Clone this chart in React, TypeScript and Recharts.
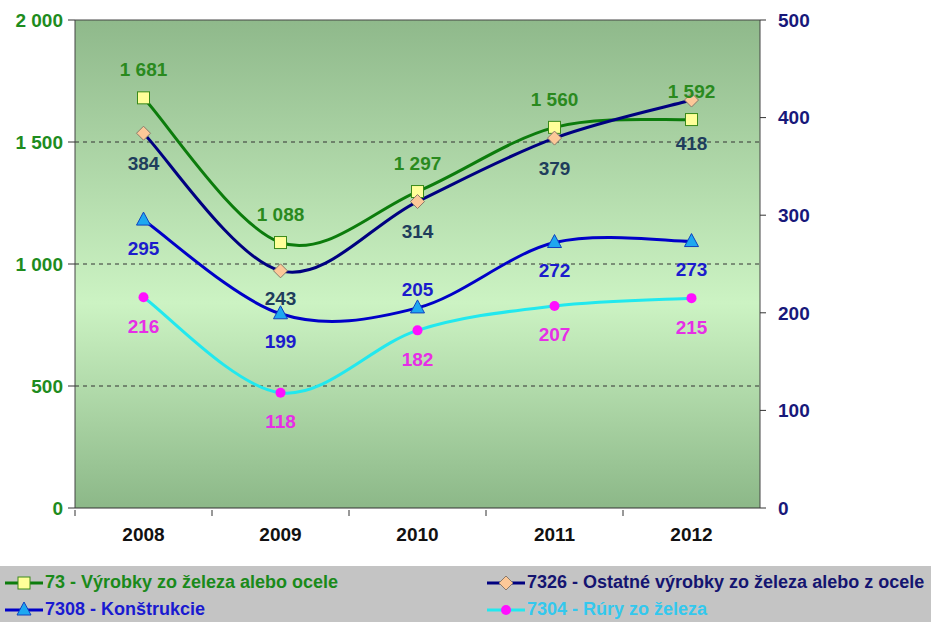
import { LineChart, Line, XAxis, YAxis, CartesianGrid, ReferenceLine, LabelList } from "recharts";

const years = ["2008", "2009", "2010", "2011", "2012"];
const vyrobky73 = [1681, 1088, 1297, 1560, 1592];
const ostatne7326 = [384, 243, 314, 379, 418];
const konstrukcie7308 = [295, 199, 205, 272, 273];
const rury7304 = [216, 118, 182, 207, 215];
const leftTicks = [0, 500, 1000, 1500, 2000];
const rightTicks = [0, 100, 200, 300, 400, 500];
const gridValues = [500, 1000, 1500];

const data = years.map((year, i) => ({
  year,
  s73: vyrobky73[i],
  s7326: ostatne7326[i],
  s7308: konstrukcie7308[i],
  s7304: rury7304[i],
}));

const FONT = "'Liberation Sans', Arial, sans-serif";

const fmt = (v: number) => String(v).replace(/\B(?=(\d{3})+(?!\d))/g, " ");

// Excel-like smoothed line (Catmull-Rom)
const smoothCurve = (context: any) => {
  let pts: [number, number][] = [];
  return {
    areaStart() {},
    areaEnd() {},
    lineStart() {
      pts = [];
    },
    point(x: number, y: number) {
      pts.push([+x, +y]);
    },
    lineEnd() {
      if (!pts.length) return;
      context.moveTo(pts[0][0], pts[0][1]);
      for (let i = 0; i < pts.length - 1; i++) {
        const p0 = pts[Math.max(i - 1, 0)];
        const p1 = pts[i];
        const p2 = pts[i + 1];
        const p3 = pts[Math.min(i + 2, pts.length - 1)];
        context.bezierCurveTo(
          p1[0] + (p2[0] - p0[0]) / 6,
          p1[1] + (p2[1] - p0[1]) / 6,
          p2[0] - (p3[0] - p1[0]) / 6,
          p2[1] - (p3[1] - p1[1]) / 6,
          p2[0],
          p2[1]
        );
      }
    },
  };
};

const SquareDot = (p: any) => (
  <rect key={p.index} x={p.cx - 6} y={p.cy - 6} width={12} height={12} fill="#ffff99" stroke="#3a8a1a" strokeWidth={1} />
);
const DiamondDot = (p: any) => (
  <path key={p.index} d={`M${p.cx},${p.cy - 7}L${p.cx + 7},${p.cy}L${p.cx},${p.cy + 7}L${p.cx - 7},${p.cy}Z`} fill="#fcc898" stroke="#8a7a6a" strokeWidth={1} />
);
const TriangleDot = (p: any) => (
  <path key={p.index} d={`M${p.cx},${p.cy - 8}L${p.cx + 7},${p.cy + 5}L${p.cx - 7},${p.cy + 5}Z`} fill="#1ea8f0" stroke="#1040c0" strokeWidth={1} />
);
const CircleDot = (p: any) => <circle key={p.index} cx={p.cx} cy={p.cy} r={5} fill="#ff10ff" />;

const series = [
  { key: "s73", name: "73 - Výrobky zo železa alebo ocele", axis: "left", line: "#0c7c0c", label: "#2a8a1e", legend: "#1a8a1a", dot: SquareDot, dy: [-28, -28, -28, -28, -28] },
  { key: "s7326", name: "7326 - Ostatné výrobky zo železa alebo z ocele", axis: "right", line: "#000080", label: "#1f3d5c", legend: "#141470", dot: DiamondDot, dy: [30, 28, 30, 30, 43] },
  { key: "s7308", name: "7308 - Konštrukcie", axis: "right", line: "#0000c8", label: "#1c1ccc", legend: "#1a1ad0", dot: TriangleDot, dy: [28, 28, -18, 28, 28] },
  { key: "s7304", name: "7304 - Rúry zo železa", axis: "right", line: "#22e8ee", label: "#e62ee6", legend: "#33c8ee", dot: CircleDot, dy: [29, 29, 29, 29, 29] },
];

const YearTick = (props: any) => {
  const { x, y, payload } = props;
  const half = payload.offset ?? 0;
  return (
    <g>
      <line x1={x - half} x2={x - half} y1={y} y2={y + 6} stroke="#333" />
      <text x={x} y={y + 31} textAnchor="middle" fontFamily={FONT} fontWeight="bold" fontSize={19} fill="#111">
        {payload.value}
      </text>
    </g>
  );
};

const legendOrder = [0, 1, 2, 3];

const LegendIcon = ({ s }: { s: (typeof series)[number] }) => {
  const Dot = s.dot;
  return (
    <svg width={42} height={16} style={{ display: "block" }}>
      <line x1={2} x2={40} y1={8} y2={8} stroke={s.line} strokeWidth={3} />
      <Dot cx={21} cy={8} index={0} />
    </svg>
  );
};

export default function App() {
  return (
    <div style={{ width: 931, height: 622, background: "#fff" }}>
      <style>{"body{margin:0}"}</style>
      <LineChart width={931} height={566} data={data} margin={{ top: 20, right: 0, left: 0, bottom: 0 }}>
        <defs>
          <linearGradient id="bg" x1="0" y1="0" x2="0" y2="1">
            <stop offset="0%" stopColor="#8fb98b" />
            <stop offset="58%" stopColor="#ccf3c3" />
            <stop offset="100%" stopColor="#8cb888" />
          </linearGradient>
        </defs>
        <CartesianGrid fill="url(#bg)" fillOpacity={1} horizontal={false} vertical={false} />
        <XAxis
          dataKey="year"
          scale="band"
          height={58}
          axisLine={{ stroke: "#333" }}
          tickLine={false}
          tickSize={0}
          tick={<YearTick />}
          interval={0}
        />
        <YAxis
          yAxisId="left"
          orientation="left"
          width={75}
          domain={[0, 2000]}
          ticks={leftTicks}
          tickFormatter={fmt}
          axisLine={{ stroke: "#444" }}
          tickLine={{ stroke: "#333" }}
          tickSize={7}
          tickMargin={5}
          tick={{ fill: "#1e8c1e", fontFamily: FONT, fontWeight: "bold", fontSize: 19 }}
        />
        <YAxis
          yAxisId="right"
          orientation="right"
          width={171}
          domain={[0, 500]}
          ticks={rightTicks}
          axisLine={{ stroke: "#444" }}
          tickLine={{ stroke: "#333" }}
          tickSize={6}
          tickMargin={12}
          tick={{ fill: "#18187a", fontFamily: FONT, fontWeight: "bold", fontSize: 19 }}
        />
        <ReferenceLine yAxisId="left" y={2000} stroke="#444" />
        {gridValues.map((v) => (
          <ReferenceLine key={v} yAxisId="left" y={v} stroke="#333" strokeDasharray="4 4" />
        ))}
        {series.map((s) => (
          <Line
            key={s.key}
            yAxisId={s.axis}
            dataKey={s.key}
            name={s.name}
            type={smoothCurve as any}
            stroke={s.line}
            strokeWidth={3}
            dot={s.dot}
            activeDot={false}
            isAnimationActive={false}
          >
            <LabelList
              dataKey={s.key}
              content={(p: any) => (
                <text
                  x={p.x}
                  y={p.y + s.dy[p.index]}
                  textAnchor="middle"
                  dominantBaseline="central"
                  fontFamily={FONT}
                  fontWeight="bold"
                  fontSize={19}
                  fill={s.label}
                >
                  {fmt(p.value)}
                </text>
              )}
            />
          </Line>
        ))}
      </LineChart>
      <div
        style={{
          height: 56,
          background: "#c4c4c4",
          display: "grid",
          gridTemplateColumns: "482px 449px",
          gridTemplateRows: "27px 27px",
          paddingTop: 3,
          boxSizing: "border-box",
          fontFamily: FONT,
          fontWeight: "bold",
          fontSize: 18,
        }}
      >
        {legendOrder.map((i) => {
          const s = series[i];
          return (
            <div key={s.key} style={{ display: "flex", alignItems: "center", paddingLeft: 3, color: s.legend, whiteSpace: "nowrap" }}>
              <LegendIcon s={s} />
              <span>{s.name}</span>
            </div>
          );
        })}
      </div>
    </div>
  );
}
